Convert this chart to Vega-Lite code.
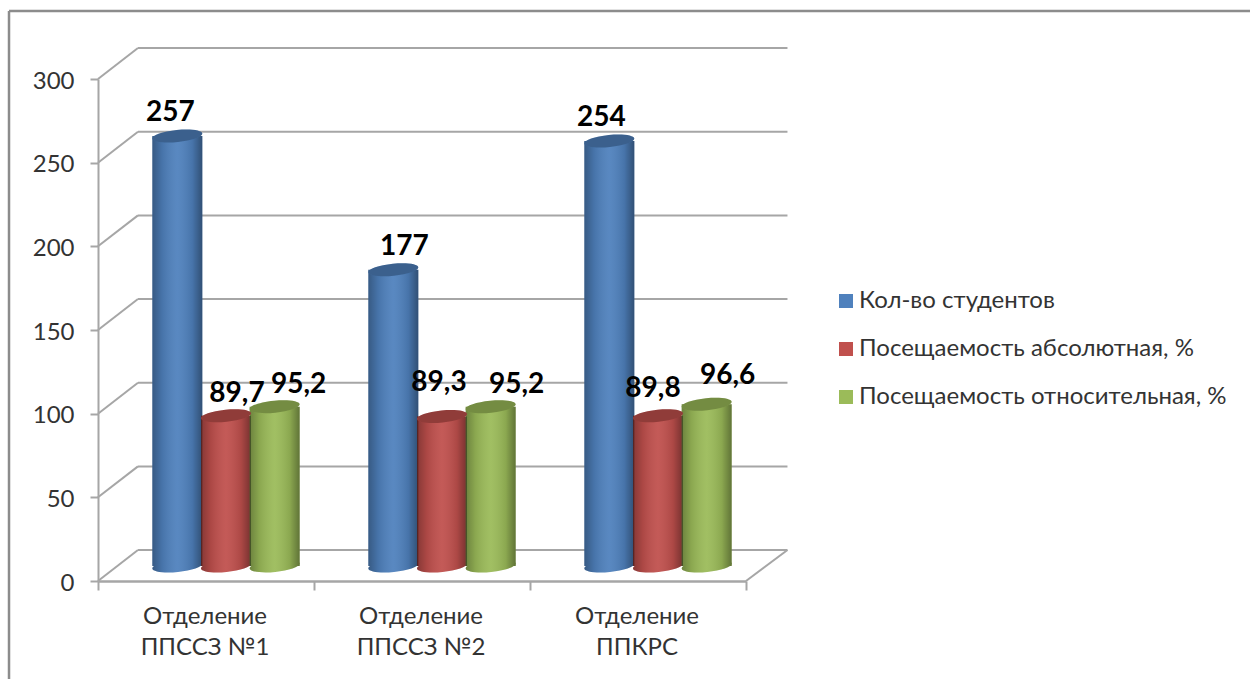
{
"$schema":"https://vega.github.io/schema/vega-lite/v6.json",
"width":648,"height":502,
"autosize":{"type":"none"},
"padding":{"left":98,"top":79,"right":504,"bottom":98},
"background":"white",
"config":{"font":"Lato","view":{"stroke":null}},
"datasets":{
"bars":[
{"category":"Отделение ППССЗ №1","series":"Кол-во студентов","value":257,"label":"257"},
{"category":"Отделение ППССЗ №1","series":"Посещаемость абсолютная, %","value":89.7,"label":"89,7"},
{"category":"Отделение ППССЗ №1","series":"Посещаемость относительная, %","value":95.2,"label":"95,2"},
{"category":"Отделение ППССЗ №2","series":"Кол-во студентов","value":177,"label":"177"},
{"category":"Отделение ППССЗ №2","series":"Посещаемость абсолютная, %","value":89.3,"label":"89,3"},
{"category":"Отделение ППССЗ №2","series":"Посещаемость относительная, %","value":95.2,"label":"95,2"},
{"category":"Отделение ППКРС","series":"Кол-во студентов","value":254,"label":"254"},
{"category":"Отделение ППКРС","series":"Посещаемость абсолютная, %","value":89.8,"label":"89,8"},
{"category":"Отделение ППКРС","series":"Посещаемость относительная, %","value":96.6,"label":"96,6"}
],
"lines":[
{"x0":0.185,"x1":3.192,"y0":18.5,"y1":18.5},{"x0":0.185,"x1":3.192,"y0":68.5,"y1":68.5},{"x0":0.185,"x1":3.192,"y0":118.5,"y1":118.5},{"x0":0.185,"x1":3.192,"y0":168.5,"y1":168.5},{"x0":0.185,"x1":3.192,"y0":218.5,"y1":218.5},{"x0":0.185,"x1":3.192,"y0":268.5,"y1":268.5},{"x0":0.185,"x1":3.192,"y0":318.5,"y1":318.5},
{"x0":0,"x1":0.185,"y0":0,"y1":18.5},{"x0":0,"x1":0.185,"y0":50,"y1":68.5},{"x0":0,"x1":0.185,"y0":100,"y1":118.5},{"x0":0,"x1":0.185,"y0":150,"y1":168.5},{"x0":0,"x1":0.185,"y0":200,"y1":218.5},{"x0":0,"x1":0.185,"y0":250,"y1":268.5},{"x0":0,"x1":0.185,"y0":300,"y1":318.5},
{"x0":3,"x1":3.192,"y0":0,"y1":18.5}
],
"frame":[
{"x0":-0.412,"x1":5.34,"y0":340.7,"y1":340.7},
{"x0":-0.412,"x1":-0.412,"y0":340.7,"y1":-60}
]
},
"layer":[
{
"layer":[
{"data":{"name":"lines"},"mark":{"type":"rule","stroke":"#a6a6a6","strokeWidth":2},
"encoding":{
"x":{"field":"x0","type":"quantitative","scale":{"domain":[0,3],"nice":false,"zero":false},
"axis":{"orient":"bottom","values":[0,1,2,3],"labels":false,"title":null,"grid":false,"tickSize":9,"tickWidth":2,"tickColor":"#a6a6a6","domainColor":"#a6a6a6","domainWidth":2.5}},"x2":{"field":"x1"},
"y":{"field":"y0","type":"quantitative","scale":{"domain":[0,300],"nice":false,"zero":false},
"axis":{"orient":"left","values":[0,50,100,150,200,250,300],"title":null,"grid":false,"tickSize":8,"tickWidth":2,"tickColor":"#a6a6a6","domainColor":"#a6a6a6","domainWidth":2,"labelFontSize":24,"labelColor":"#333333","labelPadding":16,"labelOffset":2,"labelFont":"Lato"}},"y2":{"field":"y1"}}},
{"data":{"name":"frame"},"mark":{"type":"rule","stroke":"#8c8c8c","strokeWidth":2.5},
"encoding":{
"x":{"field":"x0","type":"quantitative"},"x2":{"field":"x1"},
"y":{"field":"y0","type":"quantitative"},"y2":{"field":"y1"}}}
]
},
{
"data":{"name":"bars"},
"encoding":{
"x":{"field":"category","type":"nominal","scale":{"domain":["Отделение ППССЗ №1","Отделение ППССЗ №2","Отделение ППКРС"],"range":[20,668],"paddingInner":0.324,"paddingOuter":0.162},
"axis":{"orient":"bottom","title":null,"ticks":false,"domain":false,"labelAngle":0,"labelOffset":-21,"labelFontSize":24,"labelColor":"#333333","labelPadding":23,"labelLimit":300,"labelLineHeight":31,"labelExpr":"[slice(datum.label,0,9),slice(datum.label,10)]"}},
"xOffset":{"field":"series","type":"nominal","scale":{"domain":["Кол-во студентов","Посещаемость абсолютная, %","Посещаемость относительная, %"]}},
"y":{"field":"value","type":"quantitative","scale":{"domain":[-9,291],"nice":false,"zero":false},"axis":null}
},
"layer":[
{"mark":{"type":"point","filled":true,"opacity":1,"size":2500,"shape":"M-1,0.1 A1,0.24 -5.7 1 1 1,-0.1 A1,0.24 -5.7 1 1 -1,0.1 Z"},
"encoding":{"y":{"datum":0},"color":{"field":"series","type":"nominal","scale":{"domain":["Кол-во студентов","Посещаемость абсолютная, %","Посещаемость относительная, %"],"range":["#4f81bd","#c0504d","#9bbb59"]},
"legend":{"title":null,"orient":"none","legendX":736,"legendY":210,"symbolType":"square","symbolSize":196,"symbolOpacity":1,"symbolStrokeWidth":0,"labelFontSize":24,"labelColor":"#333333","labelFont":"Lato","labelLimit":440,"rowPadding":24,"labelOffset":1}}}},
{"mark":{"type":"point","filled":true,"opacity":1,"size":2500,"shape":"M-1,0.1 A1,0.24 -5.7 1 1 1,-0.1 A1,0.24 -5.7 1 1 -1,0.1 Z",
"fill":{"gradient":"linear","x1":0,"x2":1,"y1":0,"y2":0,"stops":[{"offset":0,"color":"rgba(0,0,0,0.3)"},{"offset":0.2,"color":"rgba(0,0,0,0.1)"},{"offset":0.5,"color":"rgba(255,255,255,0.06)"},{"offset":0.8,"color":"rgba(0,0,0,0.1)"},{"offset":1,"color":"rgba(0,0,0,0.38)"}]}},
"encoding":{"y":{"datum":0}}},
{"mark":{"type":"bar","width":50},"encoding":{"color":{"field":"series","type":"nominal"}}},
{"mark":{"type":"bar","width":50,
"fill":{"gradient":"linear","x1":0,"x2":1,"y1":0,"y2":0,"stops":[{"offset":0,"color":"rgba(0,0,0,0.3)"},{"offset":0.2,"color":"rgba(0,0,0,0.1)"},{"offset":0.5,"color":"rgba(255,255,255,0.06)"},{"offset":0.8,"color":"rgba(0,0,0,0.1)"},{"offset":1,"color":"rgba(0,0,0,0.38)"}]}}},
{"mark":{"type":"point","filled":true,"opacity":1,"size":2500,"shape":"M-1,0.1 A1,0.24 -5.7 1 1 1,-0.1 A1,0.24 -5.7 1 1 -1,0.1 Z"},"encoding":{"color":{"field":"series","type":"nominal"}}},
{"mark":{"type":"point","filled":true,"opacity":0.25,"fill":"#000000","size":2500,"shape":"M-1,0.1 A1,0.24 -5.7 1 1 1,-0.1 A1,0.24 -5.7 1 1 -1,0.1 Z"}},
{"transform":[{"filter":"datum.category=='Отделение ППССЗ №1'&&datum.value==257"}],"mark":{"type":"text","fontSize":28,"fontWeight":"bold","fill":"#000000","dx":-7,"dy":-23},"encoding":{"text":{"field":"label"}}},
{"transform":[{"filter":"datum.category=='Отделение ППССЗ №1'&&datum.value==89.7"}],"mark":{"type":"text","fontSize":28,"fontWeight":"bold","fill":"#000000","dx":11,"dy":-22},"encoding":{"text":{"field":"label"}}},
{"transform":[{"filter":"datum.category=='Отделение ППССЗ №1'&&datum.value==95.2"}],"mark":{"type":"text","fontSize":28,"fontWeight":"bold","fill":"#000000","dx":24,"dy":-22},"encoding":{"text":{"field":"label"}}},
{"transform":[{"filter":"datum.category=='Отделение ППССЗ №2'&&datum.value==177"}],"mark":{"type":"text","fontSize":28,"fontWeight":"bold","fill":"#000000","dx":11,"dy":-23},"encoding":{"text":{"field":"label"}}},
{"transform":[{"filter":"datum.category=='Отделение ППССЗ №2'&&datum.value==89.3"}],"mark":{"type":"text","fontSize":28,"fontWeight":"bold","fill":"#000000","dx":-3,"dy":-34},"encoding":{"text":{"field":"label"}}},
{"transform":[{"filter":"datum.category=='Отделение ППССЗ №2'&&datum.value==95.2"}],"mark":{"type":"text","fontSize":28,"fontWeight":"bold","fill":"#000000","dx":26,"dy":-22},"encoding":{"text":{"field":"label"}}},
{"transform":[{"filter":"datum.category=='Отделение ППКРС'&&datum.value==254"}],"mark":{"type":"text","fontSize":28,"fontWeight":"bold","fill":"#000000","dx":-8,"dy":-23},"encoding":{"text":{"field":"label"}}},
{"transform":[{"filter":"datum.category=='Отделение ППКРС'&&datum.value==89.8"}],"mark":{"type":"text","fontSize":28,"fontWeight":"bold","fill":"#000000","dx":-5,"dy":-27},"encoding":{"text":{"field":"label"}}},
{"transform":[{"filter":"datum.category=='Отделение ППКРС'&&datum.value==96.6"}],"mark":{"type":"text","fontSize":28,"fontWeight":"bold","fill":"#000000","dx":21,"dy":-28},"encoding":{"text":{"field":"label"}}}
]
}
],
"resolve":{"scale":{"x":"independent","y":"independent"},"axis":{"x":"independent","y":"independent"}}
}
